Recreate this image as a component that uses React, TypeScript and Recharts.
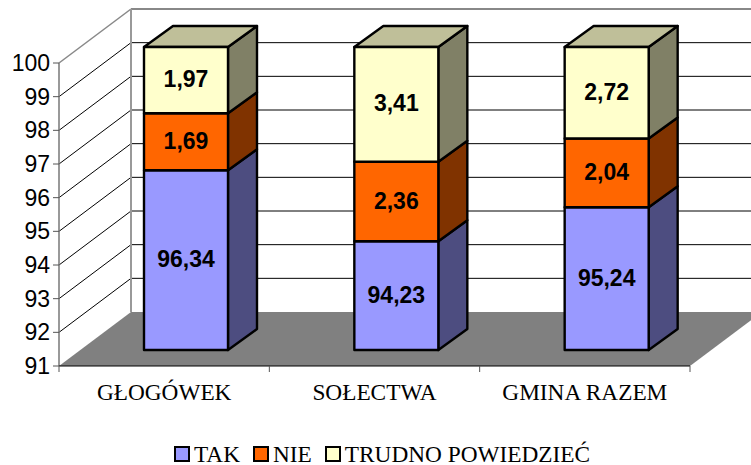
import React from "react";
import {
  Bar,
  BarChart,
  Customized,
  Legend,
  XAxis,
  YAxis,
  usePlotArea,
} from "recharts";

const categories = ["GŁOGÓWEK", "SOŁECTWA", "GMINA RAZEM"];
const takValues = [96.34, 94.23, 95.24];
const nieValues = [1.69, 2.36, 2.04];
const trudnoValues = [1.97, 3.41, 2.72];
const yTicks = [91, 92, 93, 94, 95, 96, 97, 98, 99, 100];

const series = [
  { key: "TAK", front: "#9999ff", side: "#4d4d80" },
  { key: "NIE", front: "#ff6600", side: "#803300" },
  { key: "TRUDNO POWIEDZIEĆ", front: "#ffffcc", side: "#808066", top: "#bfbf99" },
];

const data = categories.map((name, i) => ({
  name,
  TAK: takValues[i],
  NIE: nieValues[i],
  "TRUDNO POWIEDZIEĆ": trudnoValues[i],
}));

// 3d look of the old excel chart
const WALL_DX = 72;
const WALL_DY = 54;
const BAR_DX = 22;
const BAR_DY = 16;
const DEPTH_DX = 29;
const DEPTH_DY = 21;

const Walls = () => {
  const plot = usePlotArea();
  if (!plot) return null;
  const { x, y, width, height } = plot;
  const yOf = (v: number) => y + height - ((v - 91) / 9) * height;
  const bottom = y + height;
  const backX = x + WALL_DX;
  const floorY = bottom - WALL_DY;
  return (
    <g>
      <polygon
        points={`${x},${bottom} ${backX},${floorY} ${x + width + WALL_DX},${floorY} ${x + width},${bottom}`}
        fill="#808080"
      />
      {yTicks.slice(1).map((t) => (
        <g key={t}>
          <line x1={x} y1={yOf(t)} x2={backX} y2={yOf(t) - WALL_DY} stroke={t === 100 ? "#888888" : "#000"} strokeWidth={t === 100 ? 1.5 : 1} />
          <line x1={backX} y1={yOf(t) - WALL_DY} x2={751} y2={yOf(t) - WALL_DY} stroke={t === 100 ? "#888888" : "#000"} strokeWidth={t === 100 ? 2 : 1} />
        </g>
      ))}
      <line x1={backX} y1={y - WALL_DY} x2={backX} y2={floorY} stroke="#999999" strokeWidth={2} />
      <line x1={x} y1={y} x2={x} y2={bottom} stroke="#777777" strokeWidth={1.5} />
      <line x1={x} y1={bottom} x2={x + width} y2={bottom} stroke="#000" strokeWidth={1} />
      {categories.concat("").map((_, i) => {
        const tx = x + (i * width) / categories.length;
        return <line key={i} x1={tx} y1={bottom} x2={tx} y2={bottom + 6} stroke="#555555" strokeWidth={1} />;
      })}
    </g>
  );
};

const Box3d = (props: any) => {
  const { x, y, width, height, seriesKey, payload } = props;
  const plot = usePlotArea();
  const s = series.find((d) => d.key === seriesKey)!;
  const left = x + BAR_DX;
  const right = left + width;
  const top = y - BAR_DY;
  // the stack starts at 0, cut it at the floor of the chart
  const floor = plot ? plot.y + plot.height : y + height;
  const bottom = Math.min(y + height, floor) - BAR_DY;
  const label = String(payload[seriesKey].toFixed(2)).replace(".", ",");
  return (
    <g stroke="#000" strokeWidth={2.4} strokeLinejoin="round">
      <polygon
        points={`${right},${top} ${right + DEPTH_DX},${top - DEPTH_DY} ${right + DEPTH_DX},${bottom - DEPTH_DY} ${right},${bottom}`}
        fill={s.side}
      />
      {s.top && (
        <polygon
          points={`${left},${top} ${left + DEPTH_DX},${top - DEPTH_DY} ${right + DEPTH_DX},${top - DEPTH_DY} ${right},${top}`}
          fill={s.top}
        />
      )}
      <rect x={left} y={top} width={width} height={bottom - top} fill={s.front} />
      <text
        x={left + width / 2}
        y={(top + bottom) / 2 + 7}
        textAnchor="middle"
        stroke="none"
        fill="#000"
        fontFamily="Liberation Sans"
        fontWeight="bold"
        fontSize={23}
      >
        {label}
      </text>
    </g>
  );
};

const LegendRow = () => (
  <div
    style={{
      display: "flex",
      alignItems: "center",
      paddingLeft: 174,
      fontFamily: "Liberation Serif",
      fontSize: 23.3,
      lineHeight: "20px",
      color: "#000",
    }}
  >
    {series.map((s) => (
      <span key={s.key} style={{ display: "flex", alignItems: "center", marginRight: 13 }}>
        <span
          style={{
            width: 12,
            height: 12,
            border: "2px solid #000",
            background: s.front,
            marginRight: 4,
          }}
        />
        {s.key}
      </span>
    ))}
  </div>
);

export default function App() {
  return (
    <div style={{ position: "absolute", left: 0, top: 0, width: 751, height: 465 }}>
      {/* allowDataOverflow clips the bars to the plot, but they are drawn shifted back */}
      <style>{"svg [clip-path] { clip-path: none !important; }"}</style>
      <BarChart
        width={751}
        height={465}
        data={data}
        margin={{ top: 63, right: 61, left: 0, bottom: 69 }}
      >
        <Customized component={Walls} />
        <XAxis
          dataKey="name"
          height={30}
          axisLine={false}
          tickLine={false}
          interval={0}
          tick={{ fill: "#000", fontFamily: "Liberation Serif", fontSize: 23.3 }}
          tickMargin={11}
        />
        <YAxis
          width={59}
          type="number"
          domain={[91, 100]}
          ticks={yTicks}
          interval={0}
          allowDataOverflow
          axisLine={false}
          tickSize={6}
          tickMargin={3}
          tickLine={{ stroke: "#555555" }}
          tick={{ fill: "#000", fontFamily: "Liberation Sans", fontSize: 23 }}
        />
        {series.map((s) => (
          <Bar
            key={s.key}
            dataKey={s.key}
            stackId="a"
            barSize={84}
            isAnimationActive={false}
            shape={(p: any) => <Box3d {...p} seriesKey={s.key} />}
          />
        ))}
        <Legend
          layout="horizontal"
          verticalAlign="middle"
          content={<LegendRow />}
          wrapperStyle={{ top: 444, left: 0, width: 751 }}
        />
      </BarChart>
    </div>
  );
}
